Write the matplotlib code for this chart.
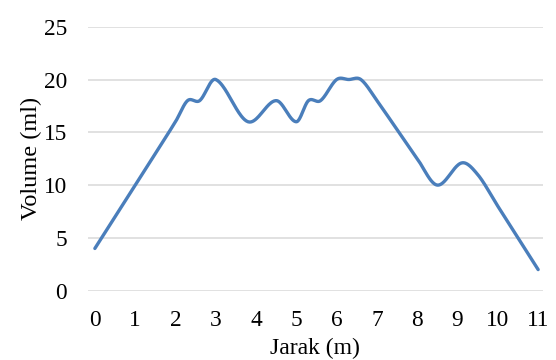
import numpy as np
import matplotlib.pyplot as plt

plt.rcParams['font.family'] = ['Liberation Serif', 'DejaVu Serif']

# measured points along the channel
jarak = [0, 1, 2, 2.3, 2.6, 3, 3.8, 4.5, 5, 5.3, 5.6, 6, 6.3, 6.6, 7, 8, 8.5, 9.1, 9.5, 10, 11]
volume = [4, 10, 16, 18, 18, 20, 16, 18, 16, 18, 18, 20, 20, 20, 18, 12.5, 10, 12.1, 11, 8, 2]
x_ticks = list(range(0, 12))
y_ticks = [0, 5, 10, 15, 20, 25]


def smooth(xs, ys, n=40):
    # cubic hermite in x, slopes taken from the neighbouring points
    xs = np.asarray(xs, float)
    ys = np.asarray(ys, float)
    m = np.empty_like(ys)
    m[1:-1] = (ys[2:] - ys[:-2]) / (xs[2:] - xs[:-2])
    m[0] = (ys[1] - ys[0]) / (xs[1] - xs[0])
    m[-1] = (ys[-1] - ys[-2]) / (xs[-1] - xs[-2])
    out_x, out_y = [], []
    t = np.linspace(0, 1, n)
    h00 = 2 * t ** 3 - 3 * t ** 2 + 1
    h10 = t ** 3 - 2 * t ** 2 + t
    h01 = -2 * t ** 3 + 3 * t ** 2
    h11 = t ** 3 - t ** 2
    for i in range(len(xs) - 1):
        h = xs[i + 1] - xs[i]
        out_x.extend(xs[i] + t * h)
        out_y.extend(h00 * ys[i] + h10 * h * m[i] + h01 * ys[i + 1] + h11 * h * m[i + 1])
    return out_x, out_y


fig = plt.figure(figsize=(5.56, 3.6), dpi=100)
ax = fig.add_axes([0.158, 0.1925, 0.8186, 0.7333])

sx, sy = smooth(jarak, volume)
ax.plot(sx, sy, color='#4a7ebb', lw=2.4, solid_capstyle='round',
        solid_joinstyle='round', zorder=3)

ax.set_xlim(-0.174, 11.12)
ax.set_ylim(0, 25)
ax.set_xticks(x_ticks)
ax.set_yticks(y_ticks)
ax.grid(axis='y', color='#d9d9d9', lw=1.1)
ax.set_axisbelow(True)
for s in ax.spines.values():
    s.set_visible(False)
ax.tick_params(axis='both', length=0, labelsize=16.8, colors='black')
ax.tick_params(axis='x', pad=14)
ax.tick_params(axis='y', pad=15)
ax.set_xlabel('Jarak (m)', fontsize=17, labelpad=5)
ax.set_ylabel('Volume (ml)', fontsize=17.5, labelpad=1)

fig.savefig('out.png', dpi=100)
